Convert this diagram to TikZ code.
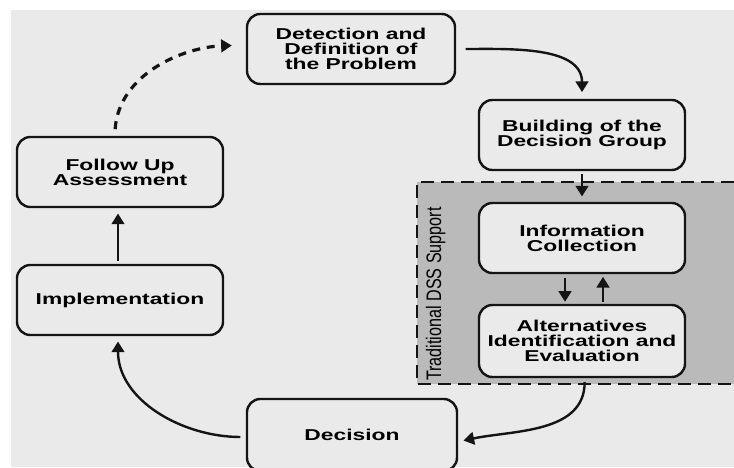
\documentclass[tikz,border=0pt]{standalone}
\usepackage{fontspec}
\setmainfont{Liberation Sans}[FakeStretch=1.45]
\newfontfamily\dssfont{Liberation Sans}
\usepackage{graphicx}
\usepackage{tikz}
\usetikzlibrary{arrows.meta}
\definecolor{paper}{RGB}{234,234,234}
\definecolor{dssgray}{RGB}{186,186,186}
\definecolor{ink}{RGB}{20,20,20}

\begin{document}
\begin{tikzpicture}[x=0.75pt, y=-0.75pt,
	stage/.style={draw=ink, line width=1.8pt, rounded corners=10pt, fill=paper, align=center,
		minimum width=154.5pt, minimum height=52.5pt, inner sep=0pt,
		font=\bfseries\fontsize{11.8}{11.2}\selectfont},
	flow/.style={draw=ink, line width=1.8pt, -{Triangle[length=8pt,width=9.5pt]}}]
	% canvas
	\useasboundingbox (0,0) rectangle (734,467);
	\fill[white] (0,0) rectangle (734,467);
	\fill[paper] (11,10) rectangle (734,467);
	% DSS support region
	\fill[dssgray] (417,182) rectangle (734,384);
	\draw[ink, line width=2.2pt, dash pattern=on 9.5pt off 5.5pt] (734,182) -- (417,182) -- (417,384) -- (734,384);
	\node[rotate=90, anchor=base west, inner sep=0pt, font=\dssfont\fontsize{12.1}{13}\selectfont] (dss) at (441,381)
		{\scalebox{1}[1.3]{Traditional DSS Support}};
	% stages of the cycle
	\node[stage, minimum width=156pt] (detect) at (351,49) {Detection and\\Definition of\\the Problem};
	\node[stage] (build) at (582,135) {Building of the\\Decision Group};
	\node[stage] (info) at (582,238) {Information\\Collection};
	\node[stage, minimum height=54pt] (alt) at (582,341) {Alternatives\\Identification and\\Evaluation};
	\node[stage, minimum width=157.5pt, minimum height=54pt] (decide) at (352,435) {Decision};
	\node[stage] (impl) at (120,300) {Implementation};
	\node[stage] (follow) at (120,172) {Follow Up\\Assessment};
	% connectors
	\draw[flow, shorten <=7pt, shorten >=5pt] (detect.east) to[out=0, in=90] (build.north);
	\draw[flow, shorten <=2pt, shorten >=4pt] (build) -- (info);
	\draw[flow, shorten <=3pt, shorten >=1.5pt] ([xshift=-12.75pt]info.south) -- ([xshift=-12.75pt]alt.north);
	\draw[flow, shorten <=1.5pt, shorten >=2pt] ([xshift=15.75pt]alt.north) -- ([xshift=15.75pt]info.south);
	\draw[flow, shorten <=3pt, shorten >=4pt] ([xshift=2pt]alt.south) to[out=-90, in=12] ([yshift=-5pt]decide.east);
	\draw[flow, shorten <=4pt, shorten >=4pt] ([yshift=-1.5pt]decide.west) to[out=180, in=-90] ([xshift=-1.5pt]impl.south);
	\draw[flow, shorten <=2pt, shorten >=4pt] ([xshift=-1.5pt]impl.north) -- ([xshift=-1.5pt]follow.south);
	\draw[flow, line width=2.4pt, dash pattern=on 6pt off 5pt, shorten <=5pt, shorten >=10.5pt]
		([xshift=-4pt]follow.north) to[out=86, in=182] ([yshift=3pt]detect.west);
\end{tikzpicture}
\end{document}
